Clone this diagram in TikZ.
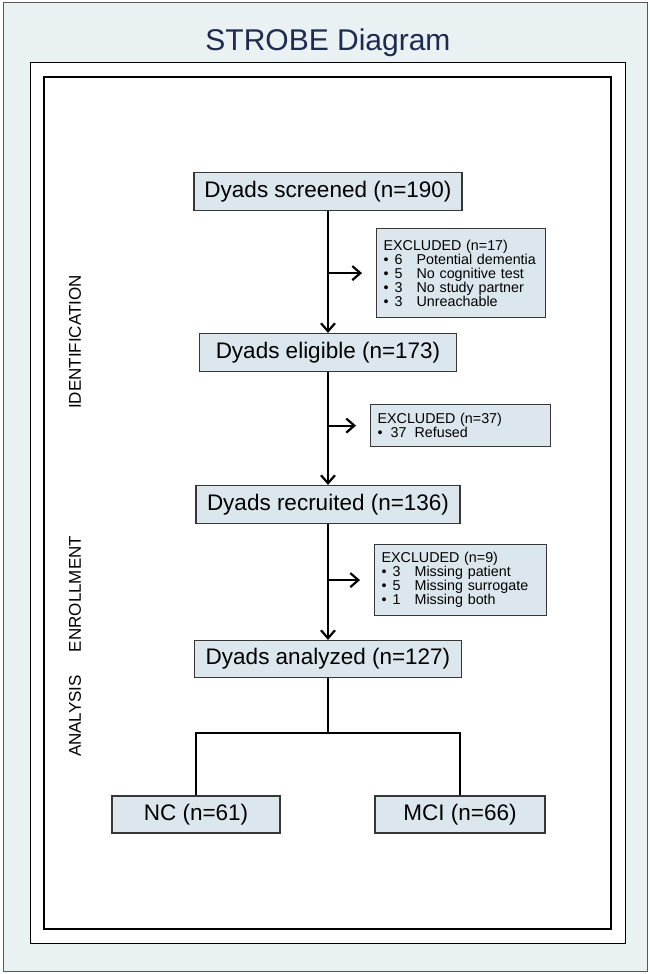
\documentclass[tikz,border=0pt]{standalone}
\usepackage{xcolor}
\usepackage{fontspec}
\setmainfont{Liberation Sans}
\usepackage{tikz}
\usetikzlibrary{arrows.meta,positioning}

\definecolor{framebg}{RGB}{233,241,243}
\definecolor{boxfill}{RGB}{219,230,237}
\definecolor{boxline}{RGB}{55,55,55}
\definecolor{titleblue}{RGB}{30,43,80}

\newcommand{\exitem}[2]{\makebox[11pt][l]{•}\makebox[22pt][l]{#1}#2}

\begin{document}
\begin{tikzpicture}[x=1pt, y=-1pt,
    mainbox/.style={rectangle, draw=boxline, line width=1.2pt, fill=boxfill, inner sep=0pt, minimum height=38pt, font=\fontsize{22.5}{27}\selectfont},
    exbox/.style={rectangle, draw=boxline, line width=1.2pt, fill=boxfill, anchor=north west, align=left, inner xsep=7pt, inner ysep=0pt, font=\fontsize{14.3}{14}\selectfont},
    phase/.style={rotate=90, inner sep=0pt, font=\fontsize{17}{20}\selectfont},
    arr/.style={line width=2.2pt, -{Straight Barb[length=8pt, width=14pt, line width=2.2pt]}},
    link/.style={line width=2.2pt}]
    \useasboundingbox (0,0) rectangle (649,974);

    % frames
    \draw[draw=black!65, line width=1pt, fill=framebg] (3,3) rectangle (647,971);
    \draw[line width=1pt, fill=white] (30,63) rectangle (625,943);
    \draw[line width=2.5pt] (44,77) rectangle (611,929);
    \node (title) at (328,43) {\fontsize{30}{36}\selectfont\color{titleblue}STROBE Diagram};

    % flow boxes
    \node[mainbox, minimum width=268pt] (screened) at (328,191.5) {Dyads screened (n=190)};
    \node[mainbox, minimum width=257pt] (eligible) at (328,352.5) {Dyads eligible (n=173)};
    \node[mainbox, minimum width=264pt] (recruited) at (328,504.5) {Dyads recruited (n=136)};
    \node[mainbox, minimum width=267pt, minimum height=37pt] (analyzed) at (328,659) {Dyads analyzed (n=127)};
    \node[mainbox, minimum width=168pt, minimum height=37pt] (nc) at (196,814.5) {NC (n=61)};
    \node[mainbox, minimum width=170pt, minimum height=37pt] (mci) at (460,814.5) {MCI (n=66)};

    % exclusion boxes
    \node[exbox, text width=155pt, minimum height=89pt] (ex1) at (376,228) {EXCLUDED (n=17)\\
        \exitem{6}{Potential dementia}\\
        \exitem{5}{No cognitive test}\\
        \exitem{3}{No study partner}\\
        \exitem{3}{Unreachable}};
    \node[exbox, text width=166pt, minimum height=42pt] (ex2) at (370,404) {EXCLUDED (n=37)\\
        \makebox[13pt][l]{•}\makebox[24pt][l]{37}Refused};
    \node[exbox, text width=158pt, minimum height=71pt] (ex3) at (374,544) {EXCLUDED (n=9)\\
        \exitem{3}{Missing patient}\\
        \exitem{5}{Missing surrogate}\\
        \exitem{1}{Missing both}};

    % phase labels
    \node[phase] (ident) at (75,342) {IDENTIFICATION};
    \node[phase] (enroll) at (75,594) {ENROLLMENT};
    \node[phase] (analysis) at (75,716) {ANALYSIS};

    % connectors
    \draw[arr] (screened) -- (eligible);
    \draw[arr] (eligible) -- (recruited);
    \draw[arr] (recruited) -- (analyzed);
    \draw[arr] (ex1.west -| screened) -- ([xshift=-14pt]ex1.west);
    \draw[arr] (ex2.west -| eligible) -- ([xshift=-14pt]ex2.west);
    \draw[arr] (ex3.west -| recruited) -- ([xshift=-14pt]ex3.west);

    \coordinate (split) at ([yshift=-55pt]analyzed.south);
    \draw[link] (analyzed) -- (split);
    \draw[link] (nc.north) |- (split) -| (mci.north);
\end{tikzpicture}
\end{document}
